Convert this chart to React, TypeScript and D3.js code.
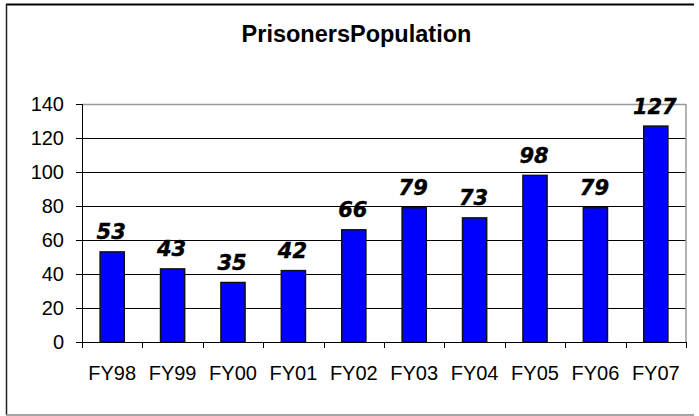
import React from "react";
import * as d3 from "d3";

const categories = ["FY98", "FY99", "FY00", "FY01", "FY02", "FY03", "FY04", "FY05", "FY06", "FY07"];
const values = [53, 43, 35, 42, 66, 79, 73, 98, 79, 127];
const yTicks = [0, 20, 40, 60, 80, 100, 120, 140];
const title = "PrisonersPopulation";

export default function App() {
  const W = 699, H = 416;
  const left = 82, right = 686, top = 104, bottom = 342;
  const x = d3.scaleBand<string>().domain(categories).range([left, right]).paddingInner(0.6).paddingOuter(0.3);
  const xb = d3.scaleBand<string>().domain(categories).range([left, right]);
  const y = d3.scaleLinear().domain([0, 140]).range([bottom, top]);
  const font = "'Liberation Sans', Arial, sans-serif";
  return (
    <svg width={W} height={H} style={{ position: "absolute", left: 0, top: 0, background: "#fff" }}>
      {/* outer frame */}
      <line x1={6} y1={4.5} x2={694} y2={4.5} stroke="#000" strokeWidth={2} />
      <line x1={6.5} y1={4} x2={6.5} y2={415} stroke="#222" strokeWidth={1.5} />
      <line x1={6} y1={415} x2={694} y2={415} stroke="#888" strokeWidth={1.5} />
      <text x={356.5} y={41.5} textAnchor="middle" fontFamily={font} fontWeight="bold" fontSize={23.5}>{title}</text>
      {/* gridlines */}
      {yTicks.filter(t => t > 0 && t < 140).map(t => (
        <line key={t} x1={left} x2={right} y1={Math.round(y(t)) + 0.5} y2={Math.round(y(t)) + 0.5} stroke="#000" strokeWidth={1} />
      ))}
      {/* plot border top/right */}
      <line x1={left} x2={right} y1={top + 0.5} y2={top + 0.5} stroke="#999" strokeWidth={1.5} />
      <line x1={right} x2={right} y1={top} y2={bottom} stroke="#999" strokeWidth={1.5} />
      {/* bars */}
      {categories.map((c, i) => (
        <rect key={c} x={x(c)!} y={y(values[i])} width={x.bandwidth()} height={bottom - y(values[i])}
          fill="#0000FF" stroke="#111" strokeWidth={1.5} />
      ))}
      {/* data labels */}
      {categories.map((c, i) => (
        <text key={c} x={x(c)! + x.bandwidth() / 2 - 1} y={y(values[i]) - 12.5} textAnchor="middle"
          fontFamily="'DejaVu Sans', Verdana, sans-serif" fontWeight="bold" fontStyle="italic" fontSize={21}
          stroke="#000" strokeWidth={0.4}>{values[i]}</text>
      ))}
      {/* y axis */}
      <line x1={left + 0.5} x2={left + 0.5} y1={top} y2={bottom} stroke="#000" strokeWidth={1} />
      {yTicks.map(t => (
        <g key={t}>
          <line x1={left - 6} x2={left} y1={Math.round(y(t)) + 0.5} y2={Math.round(y(t)) + 0.5} stroke="#000" />
          <text x={64} y={y(t) + 7} textAnchor="end" fontFamily={font} fontSize={20}>{t}</text>
        </g>
      ))}
      {/* x axis */}
      <line x1={left} x2={right} y1={bottom + 0.5} y2={bottom + 0.5} stroke="#000" />
      {[...categories.map(c => xb(c)!), right].map((p, i) => (
        <line key={i} x1={Math.round(p) + 0.5} x2={Math.round(p) + 0.5} y1={bottom} y2={bottom + 6} stroke="#000" />
      ))}
      {categories.map(c => (
        <text key={c} x={xb(c)! + xb.bandwidth() / 2} y={380} textAnchor="middle" fontFamily={font} fontSize={20}>{c}</text>
      ))}
    </svg>
  );
}
